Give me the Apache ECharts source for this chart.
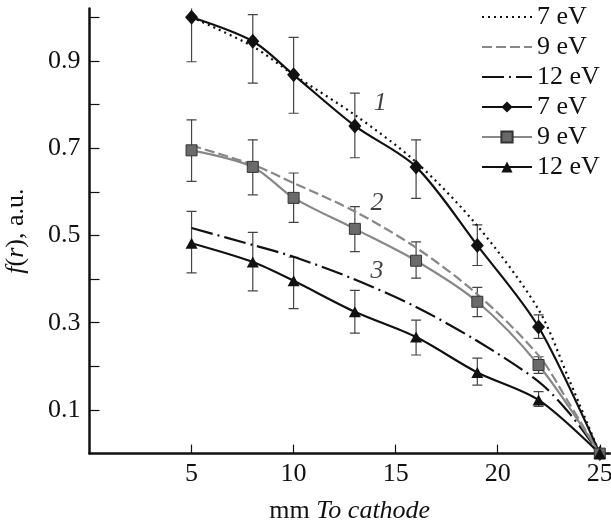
<!DOCTYPE html>
<html>
<head>
<meta charset="utf-8">
<script src="https://cdn.jsdelivr.net/npm/echarts@6/dist/echarts.min.js"></script>
<style>html,body{margin:0;padding:0;background:#fff}#c{width:611px;height:523px}</style>
</head>
<body>
<div id="c"></div>
<script>
// ---- data ----
const xExp = [5, 8, 10, 13, 16, 19, 22, 25];
const exp7 = [1.0, 0.945, 0.868, 0.751, 0.657, 0.477, 0.290, 0];
const exp7Low = [0.898, 0.849, 0.780, 0.678, 0.585, 0.431, 0.264, null];
const exp7High = [1.10, 1.006, 0.954, 0.826, 0.719, 0.524, 0.318, null];
const exp9 = [0.695, 0.657, 0.586, 0.515, 0.442, 0.348, 0.203, 0];
const exp9Low = [0.624, 0.593, 0.530, 0.463, 0.402, 0.314, 0.184, null];
const exp9High = [0.765, 0.719, 0.643, 0.566, 0.485, 0.381, 0.222, null];
const exp12 = [0.482, 0.439, 0.396, 0.325, 0.267, 0.186, 0.123, 0];
const exp12Low = [0.414, 0.373, 0.332, 0.276, 0.226, 0.157, 0.108, null];
const exp12High = [0.555, 0.507, 0.450, 0.374, 0.306, 0.219, 0.142, null];

const xTheory = [5, 8, 10, 13, 16, 19, 22, 23.5, 25];
const theory7 = [1.0, 0.933, 0.868, 0.776, 0.668, 0.522, 0.330, 0.169, 0];
const theory9 = [0.706, 0.662, 0.620, 0.555, 0.472, 0.365, 0.225, 0.115, 0];
const theory12 = [0.517, 0.478, 0.451, 0.399, 0.336, 0.258, 0.165, 0.093, 0];

const xTicks = [5, 10, 15, 20, 25];
const yTicks = [0.1, 0.2, 0.3, 0.4, 0.5, 0.6, 0.7, 0.8, 0.9, 1.0];
const yLabels = [0.1, 0.3, 0.5, 0.7, 0.9];

const legendLabels = ['7 eV', '9 eV', '12 eV', '7 eV', '9 eV', '12 eV'];
const seriesKeys = ['t7', 't9', 't12', 'e7', 'e9', 'e12'];
const legendHasSymbol = [false, false, false, true, true, true];

const curveLabels = [
  {x: 14.24, y: 0.804, text: '1'},
  {x: 14.08, y: 0.575, text: '2'},
  {x: 14.08, y: 0.417, text: '3'}
];

// ---- build ----
const FONT = 'Liberation Serif';
const FS = 26;
const zip = (xs, ys) => xs.map((x, i) => [x, ys[i]]);
const errData = (lo, hi) => xExp.map((x, i) => [x, lo[i], hi[i]]).filter(d => d[1] != null);

function errSeries(lo, hi) {
  return {
    type: 'custom',
    clip: true,
    z: 1,
    silent: true,
    data: errData(lo, hi),
    encode: {x: 0, y: [1, 2]},
    renderItem: function (params, api) {
      const x = api.value(0);
      const p1 = api.coord([x, api.value(1)]);
      const p2 = api.coord([x, api.value(2)]);
      const w = 5;
      const st = {stroke: '#444', lineWidth: 1.2};
      return {
        type: 'group',
        children: [
          {type: 'line', shape: {x1: p1[0], y1: p1[1], x2: p2[0], y2: p2[1]}, style: st},
          {type: 'line', shape: {x1: p1[0] - w, y1: p1[1], x2: p1[0] + w, y2: p1[1]}, style: st},
          {type: 'line', shape: {x1: p2[0] - w, y1: p2[1], x2: p2[0] + w, y2: p2[1]}, style: st}
        ]
      };
    }
  };
}

const nameMap = {};
seriesKeys.forEach((k, i) => nameMap[k] = legendLabels[i]);

const option = {
  animation: false,
  backgroundColor: '#fff',
  grid: {left: 89.5, right: 1, top: 8.5, bottom: 69.4, containLabel: false, outerBoundsMode: 'none'},
  legend: {
    orient: 'vertical',
    left: 481,
    top: 4,
    padding: 0,
    itemWidth: 50,
    itemHeight: 14,
    itemGap: 4,
    data: seriesKeys.map((k, i) => legendHasSymbol[i] ? {name: k} : {name: k, itemStyle: {opacity: 0}}),
    formatter: n => nameMap[n],
    textStyle: {fontFamily: FONT, fontSize: FS, color: '#111', lineHeight: 25}
  },
  xAxis: {
    type: 'value',
    min: 0, max: 25.5,
    name: 'mm {i|To cathode}',
    nameLocation: 'middle',
    nameGap: 45,
    nameTextStyle: {fontFamily: FONT, fontSize: FS, color: '#111',
      rich: {i: {fontFamily: FONT, fontSize: FS, fontStyle: 'italic', color: '#111'}}},
    axisLine: {lineStyle: {color: '#111', width: 2.5}},
    axisTick: {inside: true, length: 9, customValues: xTicks, lineStyle: {color: '#111', width: 1.2}},
    axisLabel: {customValues: xTicks, fontFamily: FONT, fontSize: FS, color: '#111', margin: 8},
    splitLine: {show: false}
  },
  yAxis: {
    type: 'value',
    min: 0, max: 1.02,
    name: '{i|f}({i|r}), a.u.',
    nameLocation: 'middle',
    nameGap: 60,
    nameRotate: 90,
    nameTextStyle: {fontFamily: FONT, fontSize: FS, color: '#111',
      rich: {i: {fontFamily: FONT, fontSize: FS, fontStyle: 'italic', color: '#111'}}},
    axisLine: {show: true, lineStyle: {color: '#111', width: 2.5}},
    axisTick: {show: true, inside: true, length: 10, customValues: yTicks, lineStyle: {color: '#111', width: 1.2}},
    axisLabel: {customValues: yLabels, formatter: v => v.toFixed(1), fontFamily: FONT, fontSize: FS, color: '#111', margin: 9},
    splitLine: {show: false}
  },
  series: [
    {name: 't7', type: 'line', data: zip(xTheory, theory7), smooth: 0.3, symbol: 'none', z: 2,
     lineStyle: {color: '#111', width: 2.2, type: [2, 4]}, itemStyle: {color: '#111'}},
    {name: 't9', type: 'line', data: zip(xTheory, theory9), smooth: 0.3, symbol: 'none', z: 2,
     lineStyle: {color: '#888', width: 2.2, type: [10, 4]}, itemStyle: {color: '#888'}},
    {name: 't12', type: 'line', data: zip(xTheory, theory12), smooth: 0.3, symbol: 'none', z: 2,
     lineStyle: {color: '#111', width: 2.2, type: [22, 5, 2, 5]}, itemStyle: {color: '#111'}},
    {name: 'e7', type: 'line', data: zip(xExp, exp7), smooth: 0.3, symbol: 'diamond', symbolSize: [13, 15], z: 3,
     lineStyle: {color: '#111', width: 2.2}, itemStyle: {color: '#111'}},
    {name: 'e9', type: 'line', data: zip(xExp, exp9), smooth: 0.3, symbol: 'rect', symbolSize: 11, z: 3,
     lineStyle: {color: '#888', width: 2.2}, itemStyle: {color: '#6a6a6a', borderColor: '#333', borderWidth: 1}},
    {name: 'e12', type: 'line', data: zip(xExp, exp12), smooth: 0.3, symbol: 'triangle', symbolSize: [12, 11], z: 3,
     lineStyle: {color: '#111', width: 2.2}, itemStyle: {color: '#111'}},
    errSeries(exp7Low, exp7High),
    errSeries(exp9Low, exp9High),
    errSeries(exp12Low, exp12High),
    {
      type: 'scatter', silent: true, symbol: 'circle', symbolSize: 2, z: 4,
      itemStyle: {color: 'rgba(0,0,0,0)'},
      data: curveLabels.map(d => ({value: [d.x, d.y], label: {formatter: d.text}})),
      label: {show: true, position: 'inside', fontFamily: FONT, fontSize: FS, fontStyle: 'italic', color: '#111'}
    }
  ]
};

const chart = echarts.init(document.getElementById('c'), null, {renderer: 'canvas'});
chart.setOption(option);
</script>
</body>
</html>
